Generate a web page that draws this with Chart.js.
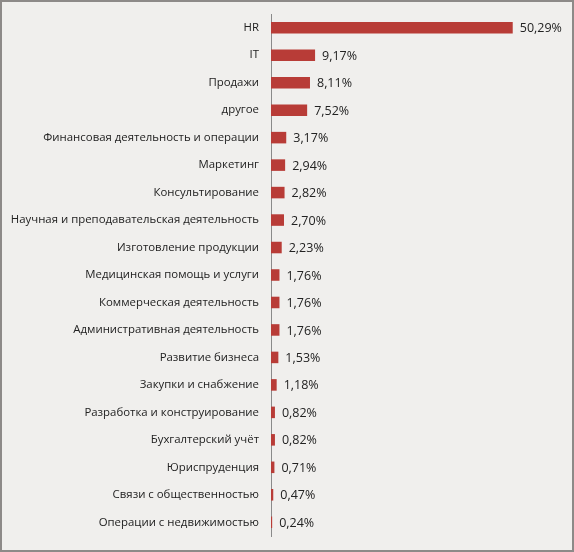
<!DOCTYPE html>
<html lang="ru">
    <head>
        <meta charset="UTF-8" />
        <title>Chart</title>
        <script src="https://cdn.jsdelivr.net/npm/chart.js"></script>
        <style>
            body { margin: 0; background: #f0efed; }
            #wrap { position: relative; width: 574px; height: 552px; }
            #frame {
                position: absolute; left: 0; top: 0; width: 574px; height: 552px;
                box-sizing: border-box; border: 2px solid #8d8a88; pointer-events: none;
            }
        </style>
    </head>
    <body>
        <div id="wrap">
            <canvas id="chart" width="574" height="552"></canvas>
            <div id="frame"></div>
        </div>
        <script>
            const categories = [
                "HR",
                "IT",
                "Продажи",
                "другое",
                "Финансовая деятельность и операции",
                "Маркетинг",
                "Консультирование",
                "Научная и преподавательская деятельность",
                "Изготовление продукции",
                "Медицинская помощь и услуги",
                "Коммерческая деятельность",
                "Административная деятельность",
                "Развитие бизнеса",
                "Закупки и снабжение",
                "Разработка и конструирование",
                "Бухгалтерский учёт",
                "Юриспруденция",
                "Связи с общественностью",
                "Операции с недвижимостью",
            ];
            const shares = [
                50.29, 9.17, 8.11, 7.52, 3.17, 2.94, 2.82, 2.7, 2.23, 1.76,
                1.76, 1.76, 1.53, 1.18, 0.82, 0.82, 0.71, 0.47, 0.24,
            ];

            const fontFamily = "'Open Sans', sans-serif";

            // value labels to the right of each bar
            const valueLabels = {
                id: "valueLabels",
                afterDatasetsDraw(chart) {
                    const ctx = chart.ctx;
                    const meta = chart.getDatasetMeta(0);
                    ctx.save();
                    ctx.font = "12.5px " + fontFamily;
                    ctx.fillStyle = "#222";
                    ctx.textBaseline = "middle";
                    ctx.textAlign = "left";
                    meta.data.forEach((bar, i) => {
                        const txt = shares[i].toFixed(2).replace(".", ",") + "%";
                        ctx.fillText(txt, bar.x + 7, bar.y + 1);
                    });
                    ctx.restore();
                },
            };

            new Chart(document.getElementById("chart"), {
                type: "bar",
                data: {
                    labels: categories,
                    datasets: [
                        {
                            data: shares,
                            backgroundColor: "#b83c37",
                            barPercentage: 0.42,
                            categoryPercentage: 1,
                        },
                    ],
                },
                options: {
                    indexAxis: "y",
                    responsive: false,
                    animation: false,
                    layout: { padding: { top: 14, bottom: 16, right: 17, left: 0 } },
                    plugins: { legend: { display: false }, tooltip: { enabled: false } },
                    scales: {
                        x: { display: false, min: 0, max: 59.5 },
                        y: {
                            afterFit(scale) {
                                scale.width = 271;
                                scale.paddingTop = 0;
                                scale.paddingBottom = 0;
                            },
                            grid: { display: false, drawTicks: false },
                            border: { display: true, color: "#8a8a8a", width: 1 },
                            ticks: {
                                color: "#222",
                                padding: 12,
                                font: { family: fontFamily, size: 11.4 },
                                autoSkip: false,
                            },
                        },
                    },
                },
                plugins: [valueLabels],
            });
        </script>
    </body>
</html>
